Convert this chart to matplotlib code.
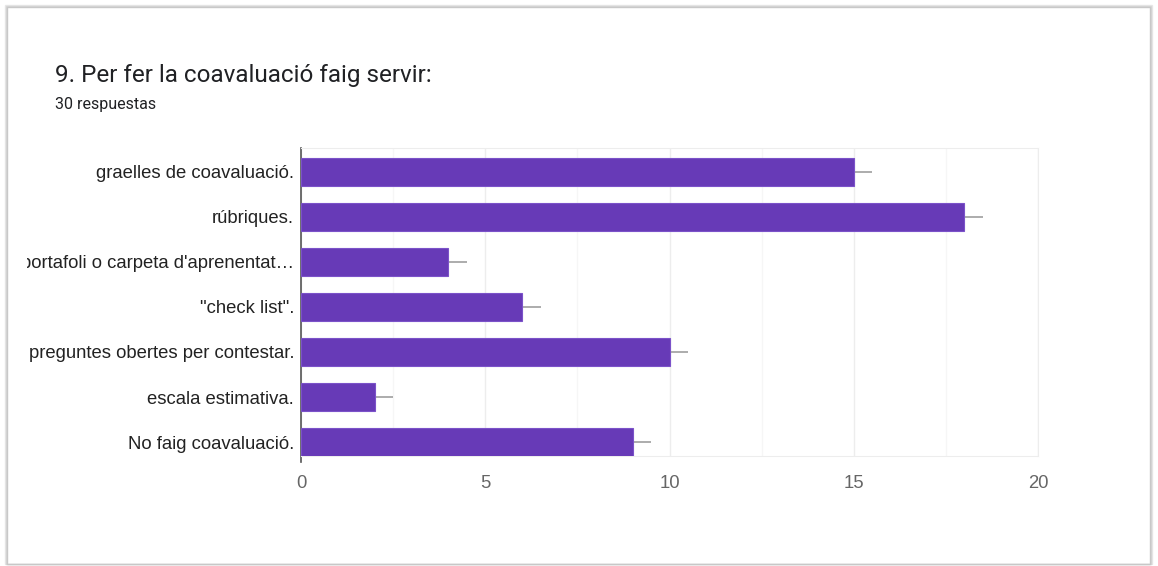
import matplotlib.pyplot as plt
from matplotlib.patches import Rectangle
import numpy as np

categories = [
    "graelles de coavaluació.",
    "rúbriques.",
    "portafoli o carpeta d'aprenentat…",
    "\"check list\".",
    "preguntes obertes per contestar.",
    "escala estimativa.",
    "No faig coavaluació.",
]
counts = [15, 18, 4, 6, 10, 2, 9]
xticks = [0, 5, 10, 15, 20]

fig = plt.figure(figsize=(11.58, 5.66), dpi=100)
fig.patch.set_facecolor("white")

# card with a soft grey edge
for off, col in [(3, "#e8e8e8"), (2, "#d6d6d6"), (1, "#c8c8c8")]:
    fig.patches.append(Rectangle((8 / 1158 - off / 1158, 2 / 566),
                                 (1149 - 8 + 2 * off) / 1158, (558 - 2 + off) / 566,
                                 transform=fig.transFigure, facecolor="none",
                                 edgecolor=col, linewidth=1, zorder=-2))
fig.patches.append(Rectangle((10 / 1158, 4 / 566), 1138 / 1158, 553 / 566,
                             transform=fig.transFigure, facecolor="white",
                             edgecolor="none", zorder=-1))

fig.text(55 / 1158, 1 - 75 / 566, "9. Per fer la coavaluació faig servir:",
         fontsize=17.5, family="Roboto", color="#202124", va="center")
fig.text(55 / 1158, 1 - 104 / 566, "30 respuestas",
         fontsize=11.5, family="Roboto", color="#202124", va="center")

ax = fig.add_axes([301 / 1158, 1 - 456 / 566, 737 / 1158, 308 / 566])
ax.set_zorder(5)
ax.patch.set_alpha(0)
y = np.arange(len(categories))
ax.barh(y, counts, height=0.62, color="#673ab7", edgecolor="#7b52c9",
        linewidth=0.8, zorder=3)
ax.hlines(y, counts, np.array(counts) + 0.5, color="#9e9e9e", linewidth=1.2, zorder=2)

ax.set_xlim(0, 20)
ax.set_ylim(6.31, -0.53)
ax.set_xticks(xticks)
ax.set_xticks(np.arange(2.5, 20, 5), minor=True)
ax.grid(axis="x", which="major", color="#ededed", linewidth=1, zorder=0)
ax.grid(axis="x", which="minor", color="#f6f6f6", linewidth=1, zorder=0)
ax.set_axisbelow(True)
ax.set_yticks(y)
ax.set_yticklabels(categories)
ax.tick_params(axis="both", which="both", length=0)
ax.tick_params(axis="y", pad=5, labelsize=13.3, labelcolor="#222222")
ax.tick_params(axis="x", pad=14, labelsize=13.3, labelcolor="#666666")
for s in ["top", "bottom", "right"]:
    ax.spines[s].set_color("#ededed")
ax.spines["left"].set_color("#555555")
ax.spines["left"].set_linewidth(1.2)
ax.spines["left"].set_bounds(6.45, -0.53)
for lbl in ax.get_yticklabels() + ax.get_xticklabels():
    lbl.set_family("Liberation Sans")

# long labels are cut at the left of the label area
clip = Rectangle((27 / 1158, 0), 1, 1, transform=fig.transFigure)
for lbl in ax.get_yticklabels():
    lbl.set_clip_path(clip)

fig.savefig("out.png", dpi=100)
